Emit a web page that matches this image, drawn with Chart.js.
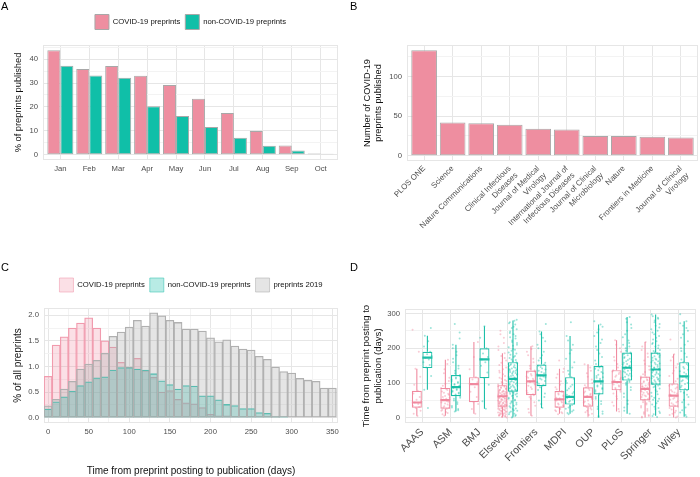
<!DOCTYPE html>
<html><head><meta charset="utf-8">
<script src="https://cdn.jsdelivr.net/npm/chart.js@4.4.0/dist/chart.umd.min.js"></script>
<style>
html,body{margin:0;padding:0;background:#fff;}
#wrap{position:relative;width:700px;height:477px;overflow:hidden;font-family:"Liberation Sans",Arial,sans-serif;}
canvas{position:absolute;}
.lbl{position:absolute;font-size:11px;color:#000;line-height:1;}
</style></head><body>
<div id="wrap">
<canvas id="cA" width="350" height="230" style="left:0;top:0"></canvas>
<canvas id="cB" width="350" height="240" style="left:350px;top:0"></canvas>
<canvas id="cC" width="350" height="247" style="left:0;top:230px"></canvas>
<canvas id="cD" width="350" height="247" style="left:350px;top:230px"></canvas>
<div class="lbl" style="left:1px;top:1px">A</div>
<div class="lbl" style="left:350px;top:1px">B</div>
<div class="lbl" style="left:1px;top:262px">C</div>
<div class="lbl" style="left:350px;top:262px">D</div>
</div>
<script>
// ---------- Panel A data ----------
const months = ['Jan','Feb','Mar','Apr','May','Jun','Jul','Aug','Sep','Oct'];
const covidPublishedPct = [43.7, 35.9, 37.1, 33.0, 29.2, 23.4, 17.5, 9.9, 3.9, 0.5];
const nonCovidPublishedPct = [37.2, 33.1, 32.2, 20.3, 16.2, 11.6, 7.1, 3.8, 1.8, 0.4];

// ---------- Panel B data ----------
const journals = ['PLOS ONE','Science','Nature Communications',['Clinical Infectious','Diseases'],['Journal of Medical','Virology'],['International Journal of','Infectious Diseases'],['Journal of Clinical','Microbiology'],'Nature','Frontiers in Medicine',['Journal of Clinical','Virology']];
const journalCovidCounts = [133, 42, 41, 39, 34, 33, 25, 25, 24, 23];

// ---------- Panel C data (10-day bins, centres) ----------
const binDays = [0,10,20,30,40,50,60,70,80,90,100,110,120,130,140,150,160,170,180,190,200,210,220,230,240,250,260,270,280,290,300,310,320,330,340,350];
const histCovid = [0.81,1.42,1.58,1.75,1.85,1.95,1.75,1.50,1.38,1.08,0.99,1.16,0.92,0.79,0.50,0.53,0.36,0.29,0.27,0.20,0.065,0.04,0.04,0.03,0.02,0.02,0.01,0.01,0.005,0,0,0,0,0,0,0];
const histNonCovid = [0.17,0.31,0.41,0.52,0.63,0.70,0.78,0.80,0.93,0.98,0.98,0.95,0.93,0.86,0.72,0.65,0.56,0.63,0.62,0.43,0.43,0.35,0.26,0.24,0.18,0.18,0.10,0.085,0.03,0.03,0,0,0,0,0,0];
const hist2019 = [0.235,0.36,0.56,0.71,0.95,1.05,1.12,1.26,1.59,1.67,1.77,1.90,1.79,2.05,1.99,1.90,1.86,1.73,1.73,1.69,1.56,1.48,1.52,1.40,1.34,1.32,1.20,1.14,0.99,0.90,0.87,0.77,0.73,0.71,0.58,0.58];

// ---------- Panel D data ----------
const publishers = ['AAAS','ASM','BMJ','Elsevier','Frontiers','MDPI','OUP','PLoS','Springer','Wiley'];
const covidLo  = [6, 6, 12, 3, 6, 12, 6, 18, 1, 1];
const covidQ1  = [29, 26, 45, 32, 65, 29, 32, 79, 50, 32];
const covidMed = [44, 51, 97, 62, 105, 53, 60, 103, 83, 64];
const covidQ3  = [78, 86, 117, 94, 136, 77, 88, 137, 119, 99];
const covidHi  = [141, 167, 218, 186, 206, 141, 154, 223, 218, 183];
const nonLo  = [81, 18, 26, 4, 28, 12, 1, 12, 6, 3];
const nonQ1  = [143, 62, 114, 75, 91, 38, 67, 107, 95, 79];
const nonMed = [173, 88, 168, 112, 122, 60, 105, 144, 139, 119];
const nonQ3  = [190, 123, 200, 160, 153, 117, 149, 188, 188, 160];
const nonHi  = [236, 210, 263, 280, 248, 235, 268, 290, 297, 278];
const covidDays = [
  [5,12,20,28,31,35,40,44,47,52,60,70,78,95,118,141,190,253],
  [6,14,20,26,30,35,41,46,51,55,60,66,72,80,86,98,115,140,167,10,17,23,28,33,38,44,49,53,58,63,69,76,83,92,106,128,155],
  [12,25,40,45,60,75,88,97,102,110,117,140,175,218],
  [2,5,8,11,14,17,20,23,26,29,32,34,37,40,43,46,49,52,55,58,60,62,64,67,70,73,76,80,84,88,92,96,100,106,112,120,130,140,152,165,178,186,205,230,250,
   1,3,4,6,7,9,10,12,13,15,16,18,19,21,22,24,25,27,28,30,31,33,35,36,38,39,41,42,44,45,47,48,50,51,53,54,56,57,59,61,63,65,66,68,69,71,72,74,75,77,78,81,83,86,89,91,94,98,103,109,115,125,135,145,158,172,195,215,240],
  [6,25,45,60,68,78,88,96,102,108,115,122,130,136,150,170,190,206,15,35,55,65,72,83,92,99,105,112,119,126,133,142,160,180,198],
  [10,16,22,28,33,38,44,50,53,58,64,70,77,88,105,125,141,165,13,19,25,31,36,41,47,52,56,61,67,74,82,95,115,132],
  [4,12,20,28,34,40,47,54,60,66,72,80,88,100,118,135,154,8,16,24,31,37,44,50,57,63,69,76,84,94,110,128,145],
  [18,35,55,70,79,86,93,99,103,108,115,122,130,137,155,175,200,223,25,45,62,75,82,90,96,101,106,111,118,126,133,145,165,190,210],
  [1,8,16,25,34,42,50,57,64,70,76,83,89,95,102,110,119,132,148,165,185,205,218,3,5,12,20,30,38,45,48,52,54,60,62,66,68,72,74,78,80,81,85,87,91,93,98,100,105,108,113,116,125,138,155,175,195],
  [1,8,15,24,32,38,45,52,58,64,70,76,84,92,99,112,128,145,165,183,225,4,12,20,28,35,42,48,55,61,67,73,80,88,95,105,120,135,155,175]
];
const nonCovidDays = [
  [28,81,120,145,152,160,168,173,178,183,190,205,220,236,258],
  [18,25,34,45,55,62,67,72,78,83,88,92,97,103,110,116,123,135,150,170,190,210,245,270,22,30,40,50,58,64,70,75,80,86,90,95,100,106,113,120,128,142,160,180,200,228],
  [26,48,95,114,130,150,160,168,175,185,200,230,263],
  [3,8,15,22,30,38,45,52,58,64,70,75,80,85,90,95,100,105,109,112,116,120,125,130,135,140,146,152,160,168,178,188,198,210,222,235,248,262,275,282,
   1,5,10,12,18,20,25,27,33,35,41,43,48,50,55,57,61,63,67,69,72,74,77,79,82,84,87,89,92,94,97,99,102,104,107,110,114,118,122,124,127,129,132,134,137,139,142,144,149,151,155,157,163,166,172,175,181,185,193,196,203,207,215,218,228,232,240,244,255,258,268,272,279],
  [28,50,70,88,95,102,110,116,122,128,135,142,150,158,172,190,210,230,248,270,40,60,80,92,98,106,113,119,125,132,139,146,153,165,180,200,220,240],
  [10,18,26,34,40,46,52,57,60,66,74,84,95,106,117,135,160,185,210,235,275,14,22,30,37,43,49,55,63,70,79,90,100,112,125,145,170,195,222],
  [2,12,25,40,55,67,75,83,90,97,105,112,120,128,137,149,165,185,205,225,245,268,278,5,18,32,48,60,70,79,86,93,100,103,108,115,117,124,132,141,145,155,175,195,215,235,255,262],
  [12,30,50,70,88,100,107,115,122,130,137,144,150,158,166,175,188,200,215,232,250,268,285,290,20,40,60,80,95,103,110,112,118,120,125,127,133,135,140,142,147,148,153,155,161,163,170,172,180,183,185,193,205,210,222,240,258,275],
  [5,18,32,48,62,76,88,95,104,112,120,128,135,139,145,152,160,170,180,188,200,215,230,245,260,275,288,297,
   2,10,14,25,28,38,42,52,55,58,68,72,80,84,91,93,97,99,101,106,108,110,114,116,118,122,124,126,130,132,137,141,143,147,149,154,156,158,163,165,167,173,175,177,183,185,186,192,195,205,208,212,220,225,235,240,250,255,265,270,280,285,292],
  [3,15,30,45,60,72,79,88,97,105,112,119,126,134,142,151,160,175,192,210,230,250,265,278,298,8,22,38,52,66,76,83,92,100,108,115,122,130,138,146,155,168,185,200,220,240,258,272]
];

// ---------- styles ----------
const PINK = '#EE8EA0', TEAL = '#10BFA8', BAR_EDGE = '#A8A8A8';
const GRID_MAJOR = '#E6E6E6', GRID_MINOR = '#F3F3F3', TICK_COL = '#4D4D4D', TITLE_COL = '#111';
const JIT = [0.02,-0.11,0.13,-0.04,0.08,-0.14,0.05,-0.07,0.15,-0.01,0.10,-0.12,0.03,-0.09,0.12,-0.05,0.07,-0.15,0.00,0.14,-0.03,0.09,-0.10];
const OFF = 0.185, HALFBOX = 0.175;

Chart.defaults.font.family = '"Liberation Sans", Arial, sans-serif';
Chart.defaults.animation = false;

const panelBorder = { id: 'panelBorder', beforeDatasetsDraw(chart) {
  const {ctx, chartArea: a} = chart; ctx.save(); ctx.strokeStyle = GRID_MAJOR; ctx.lineWidth = 1;
  ctx.strokeRect(Math.round(a.left) + 0.5, Math.round(a.top) + 0.5, Math.round(a.right - a.left) - 1, Math.round(a.bottom - a.top) - 1);
  ctx.restore(); } };

function isMajor(v, step) { const r = v / step; return Math.abs(r - Math.round(r)) < 1e-6; }
function gridCol(step) { return c => (c.tick && isMajor(c.tick.value, step)) ? GRID_MAJOR : GRID_MINOR; }
function contY(min, max, major, minorList, fmt, title, titlePad, width, titleSize) {
  return {
    type: 'linear', min, max, bounds: 'data',
    afterBuildTicks: s => { s.ticks = minorList.map(v => ({value: v})); },
    ticks: { autoSkip: false, color: TICK_COL, font: {size: 7.7}, padding: 5, callback: v => isMajor(v, major) ? fmt(v) : '' },
    grid: { drawTicks: false, color: gridCol(major), lineWidth: 1 },
    border: { display: false },
    title: { display: true, text: title, color: TITLE_COL, font: {size: titleSize, lineHeight: 1.2}, padding: {top: titlePad, bottom: 0} },
    afterFit: s => { s.width = width; }
  };
}
function discreteX(labels, height, fontSize, rot, pad) {
  return {
    type: 'linear', min: 0.4, max: labels.length + 0.6, bounds: 'data', offset: false,
    afterBuildTicks: s => { s.ticks = labels.map((_, i) => ({value: i + 1})); },
    ticks: { autoSkip: false, minRotation: rot, maxRotation: rot, color: TICK_COL, font: {size: fontSize}, padding: pad, callback: v => labels[Math.round(v) - 1] },
    grid: { drawTicks: false, offset: false, color: GRID_MAJOR },
    border: { display: false },
    afterFit: s => { s.height = height; }
  };
}
const steps = (a, b, s) => { const o = []; for (let v = a; v <= b + 1e-9; v += s) o.push(+v.toFixed(4)); return o; };

// ---------- Panel A ----------
new Chart(document.getElementById('cA'), {
  type: 'bar',
  data: { datasets: [
    { label: 'COVID-19 preprints', data: covidPublishedPct.map((v, i) => ({x: i + 1, y: v})), backgroundColor: PINK, borderColor: BAR_EDGE, borderWidth: 1, borderSkipped: false, categoryPercentage: 0.9, barPercentage: 1 },
    { label: 'non-COVID-19 preprints', data: nonCovidPublishedPct.map((v, i) => ({x: i + 1, y: v})), backgroundColor: TEAL, borderColor: BAR_EDGE, borderWidth: 1, borderSkipped: false, categoryPercentage: 0.9, barPercentage: 1 }
  ]},
  options: {
    responsive: false, devicePixelRatio: 1,
    layout: { padding: {left: 0, right: 12, top: 9.5, bottom: 0} },
    plugins: {
      legend: { position: 'top', fullSize: false, weight: 3000, labels: { boxWidth: 14, boxHeight: 15, padding: 5, color: TITLE_COL, font: {size: 7.7} } },
      title: { display: true, text: '', padding: 0, font: {size: 5.5, lineHeight: 1} },
      tooltip: { enabled: false }
    },
    scales: {
      x: discreteX(months, 70, 7.7, 0, 4.5),
      y: contY(-2.2, 45.9, 10, steps(0, 45, 5), v => String(v), '% of preprints published', 12.4, 43, 9.3)
    }
  },
  plugins: [panelBorder]
});

// ---------- Panel B ----------
new Chart(document.getElementById('cB'), {
  type: 'bar',
  data: { datasets: [
    { label: 'COVID-19 preprints', data: journalCovidCounts.map((v, i) => ({x: i + 1, y: v})), backgroundColor: PINK, borderColor: BAR_EDGE, borderWidth: 1, borderSkipped: false, categoryPercentage: 0.9, barPercentage: 1 }
  ]},
  options: {
    responsive: false, devicePixelRatio: 1,
    layout: { padding: {left: 0, right: 2, top: 45, bottom: 0} },
    plugins: { legend: {display: false}, tooltip: {enabled: false} },
    scales: {
      x: discreteX(journals, 79, 7.9, 45, 3),
      y: contY(-6.65, 139.65, 50, steps(0, 125, 25), v => String(v), ['Number of COVID-19', 'preprints published'], 11.6, 57, 9.2)
    }
  },
  plugins: [panelBorder]
});

// ---------- Panel C ----------
new Chart(document.getElementById('cC'), {
  type: 'bar',
  data: { datasets: [
    { label: 'COVID-19 preprints', data: histCovid.map((v, i) => ({x: binDays[i], y: v})), backgroundColor: 'rgba(240,130,155,0.25)', borderColor: '#F2A0B2', borderWidth: 0.6, borderSkipped: false, grouped: false, categoryPercentage: 1, barPercentage: 1, order: 2 },
    { label: 'non-COVID-19 preprints', data: histNonCovid.map((v, i) => ({x: binDays[i], y: v})), backgroundColor: 'rgba(20,190,170,0.30)', borderColor: '#3FC6B6', borderWidth: 0.6, borderSkipped: false, grouped: false, categoryPercentage: 1, barPercentage: 1, order: 1 },
    { label: 'preprints 2019', data: hist2019.map((v, i) => ({x: binDays[i], y: v})), backgroundColor: 'rgba(170,170,170,0.30)', borderColor: '#B2B2B2', borderWidth: 0.6, borderSkipped: false, grouped: false, categoryPercentage: 1, barPercentage: 1, order: 0 }
  ]},
  options: {
    responsive: false, devicePixelRatio: 1,
    layout: { padding: {left: 0, right: 12, top: 43, bottom: 0} },
    plugins: {
      legend: { position: 'top', fullSize: false, weight: 3000, labels: { boxWidth: 14, boxHeight: 14, padding: 5, color: TITLE_COL, font: {size: 7.7}, sort: (a, b) => a.datasetIndex - b.datasetIndex } },
      title: { display: true, text: '', padding: 0, font: {size: 6, lineHeight: 1} },
      tooltip: { enabled: false }
    },
    scales: {
      x: {
        type: 'linear', min: -5, max: 357, bounds: 'data', offset: false,
        afterBuildTicks: s => { s.ticks = steps(0, 350, 25).map(v => ({value: v})); },
        ticks: { autoSkip: false, maxRotation: 0, color: TICK_COL, font: {size: 7.7}, padding: 4, callback: v => isMajor(v, 50) ? String(v) : '' },
        grid: { drawTicks: false, offset: false, color: gridCol(50) },
        border: { display: false },
        title: { display: true, text: 'Time from preprint posting to publication (days)', color: TITLE_COL, font: {size: 10, lineHeight: 1.2}, padding: {top: 0, bottom: 0} },
        afterFit: s => { s.height = 54; }
      },
      y: contY(-0.102, 2.142, 0.5, steps(0, 2, 0.25), v => v.toFixed(1), '% of all preprints', 12.3, 44, 10)
    }
  },
  plugins: [panelBorder]
});

// ---------- Panel D ----------
function whiskerData(lo, q1, q3, hi, side) {
  const out = [];
  lo.forEach((_, i) => { const x = i + 1 + side;
    out.push({x, y: lo[i]}, {x, y: q1[i]}, {x, y: null}, {x, y: q3[i]}, {x, y: hi[i]}, {x, y: null}); });
  return out;
}
function medianData(med, side) {
  const out = [];
  med.forEach((m, i) => { const c = i + 1 + side; out.push({x: c - HALFBOX, y: m}, {x: c + HALFBOX, y: m}, {x: c, y: null}); });
  return out;
}
function jitterData(lists, side) {
  const out = [];
  lists.forEach((vals, i) => vals.forEach((v, k) => out.push({x: i + 1 + side + JIT[(k + 3 * i) % JIT.length], y: v})));
  return out;
}
const PINK_D = '#F08BA0', TEAL_D = '#1DBFA8';
new Chart(document.getElementById('cD'), {
  type: 'bar',
  data: { datasets: [
    { type: 'bar', label: 'COVID box', data: publishers.map((_, i) => ({x: i + 1, y: [covidQ1[i], covidQ3[i]]})), backgroundColor: 'rgba(255,255,255,0.55)', borderColor: PINK_D, borderWidth: 1.2, borderSkipped: false, categoryPercentage: 0.74, barPercentage: 0.946, order: 3 },
    { type: 'bar', label: 'non-COVID box', data: publishers.map((_, i) => ({x: i + 1, y: [nonQ1[i], nonQ3[i]]})), backgroundColor: 'rgba(255,255,255,0.55)', borderColor: TEAL_D, borderWidth: 1.2, borderSkipped: false, categoryPercentage: 0.74, barPercentage: 0.946, order: 3 },
    { type: 'line', label: 'COVID whiskers', data: whiskerData(covidLo, covidQ1, covidQ3, covidHi, -OFF), borderColor: PINK_D, borderWidth: 1.1, pointRadius: 0, spanGaps: false, order: 2 },
    { type: 'line', label: 'non-COVID whiskers', data: whiskerData(nonLo, nonQ1, nonQ3, nonHi, OFF), borderColor: TEAL_D, borderWidth: 1.1, pointRadius: 0, spanGaps: false, order: 2 },
    { type: 'line', label: 'COVID median', data: medianData(covidMed, -OFF), borderColor: PINK_D, borderWidth: 2.2, pointRadius: 0, spanGaps: false, order: 1 },
    { type: 'line', label: 'non-COVID median', data: medianData(nonMed, OFF), borderColor: TEAL_D, borderWidth: 2.2, pointRadius: 0, spanGaps: false, order: 1 },
    { type: 'scatter', label: 'COVID points', data: jitterData(covidDays, -OFF), pointRadius: 1, pointBorderWidth: 0, backgroundColor: 'rgba(240,130,155,0.42)', order: 0 },
    { type: 'scatter', label: 'non-COVID points', data: jitterData(nonCovidDays, OFF), pointRadius: 1, pointBorderWidth: 0, backgroundColor: 'rgba(20,190,168,0.42)', order: 0 }
  ]},
  options: {
    responsive: false, devicePixelRatio: 1,
    layout: { padding: {left: 0, right: 3, top: 79, bottom: 0} },
    plugins: { legend: {display: false}, tooltip: {enabled: false} },
    scales: {
      x: discreteX(publishers, 54, 10.5, 45, 3),
      y: contY(-14.9, 312.9, 100, steps(0, 300, 50), v => String(v), ['Time from preprint posting to', 'publication (days)'], 10.8, 55, 9.6)
    }
  },
  plugins: [panelBorder]
});
</script>
</body></html>
